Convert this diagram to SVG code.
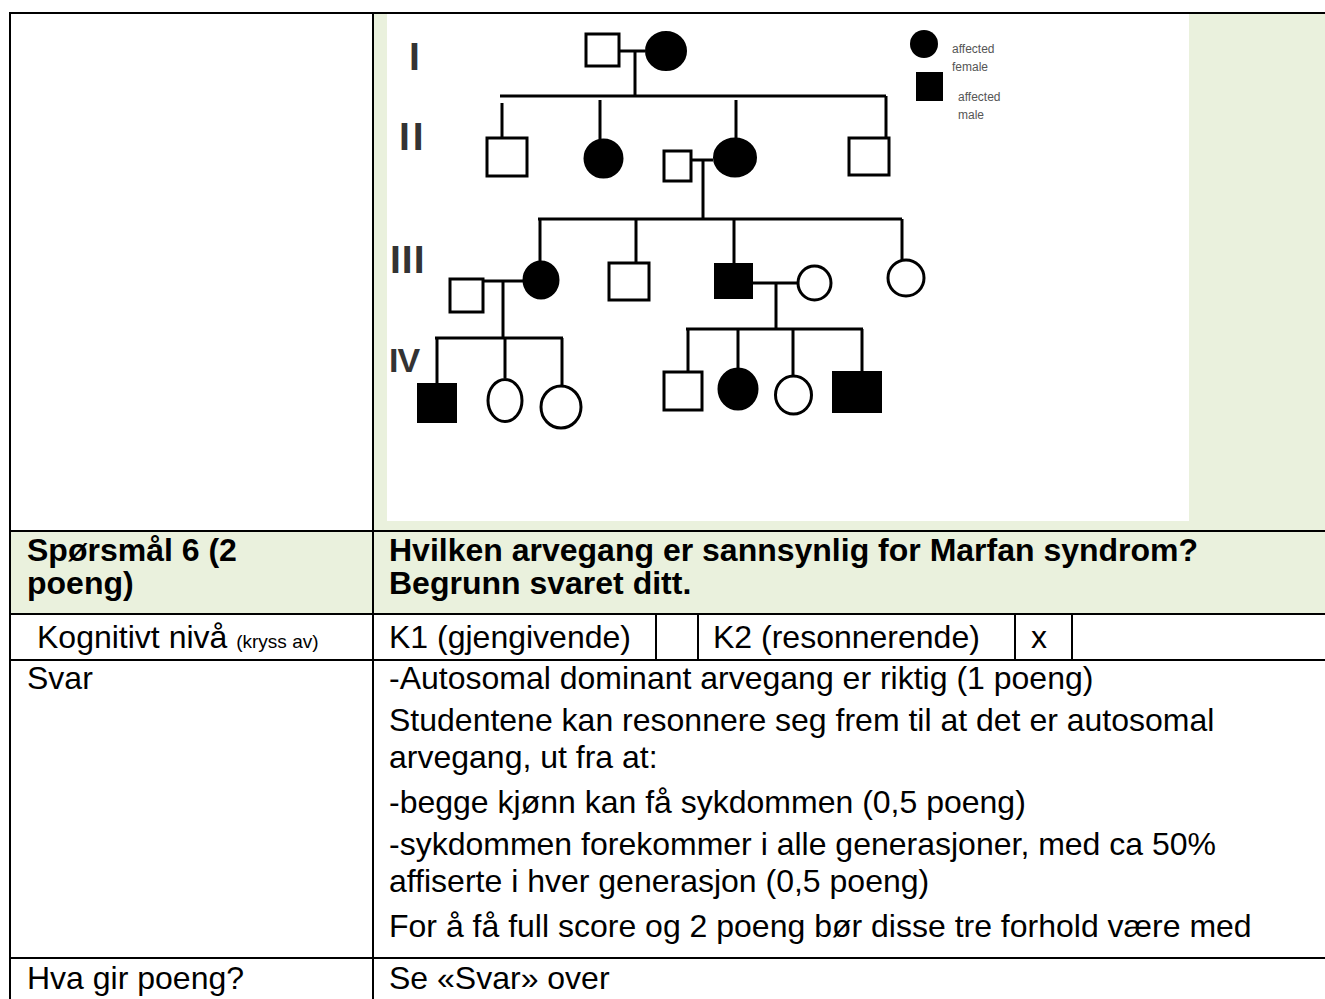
<svg xmlns="http://www.w3.org/2000/svg" width="1325" height="999" viewBox="0 0 1325 999">
<style>
.t{font-family:"Liberation Sans",Arial,sans-serif;font-size:32px;fill:#000}
.b{font-weight:bold}
.s{font-size:19px}
.grid{stroke:#000;stroke-width:2;fill:none}
.ped{stroke:#000;stroke-width:3;fill:none}
.open{fill:#fff;stroke:#000;stroke-width:3}
.fill{fill:#000;stroke:#000;stroke-width:2}
.gen{font-family:"Liberation Sans",Arial,sans-serif;font-weight:bold;fill:#333}
.leg{font-family:"Liberation Sans",Arial,sans-serif;font-size:12px;fill:#555}
</style>
<rect x="0" y="0" width="1325" height="999" fill="#fff"/>
<!-- backgrounds -->
<rect x="373" y="12" width="952" height="519" fill="#EAF1DD"/>
<rect x="387" y="14" width="802" height="507" fill="#fff"/>
<rect x="10" y="531" width="1315" height="83" fill="#EAF1DD"/>

<!-- table grid -->
<g id="grid" class="grid">
<line x1="9" y1="13" x2="1325" y2="13"/>
<line x1="10" y1="12" x2="10" y2="999"/>
<line x1="373" y1="12" x2="373" y2="999"/>
<line x1="10" y1="531" x2="1325" y2="531"/>
<line x1="10" y1="614" x2="1325" y2="614"/>
<line x1="10" y1="660" x2="1325" y2="660"/>
<line x1="10" y1="958" x2="1325" y2="958"/>
<line x1="656" y1="614" x2="656" y2="660"/>
<line x1="698" y1="614" x2="698" y2="660"/>
<line x1="1015" y1="614" x2="1015" y2="660"/>
<line x1="1072" y1="614" x2="1072" y2="660"/>
</g>

<!-- pedigree generation labels -->
<g id="gen-labels">
<text class="gen" x="409" y="70" font-size="39">I</text>
<text class="gen" x="399" y="150" font-size="39" letter-spacing="3">II</text>
<text class="gen" x="390" y="273" font-size="39" letter-spacing="1">III</text>
<text class="gen" x="389" y="372" font-size="34" letter-spacing="-1">IV</text>
</g>

<!-- connectors -->
<g id="connectors" class="ped">
<line x1="620" y1="51" x2="645" y2="51"/>
<line x1="635" y1="51" x2="635" y2="97"/>
<line x1="500" y1="96" x2="886" y2="96"/>
<line x1="502" y1="103" x2="502" y2="138"/>
<line x1="600" y1="100" x2="600" y2="139"/>
<line x1="736" y1="100" x2="736" y2="139"/>
<line x1="886" y1="96" x2="886" y2="137"/>
<line x1="692" y1="160" x2="713" y2="160"/>
<line x1="703" y1="160" x2="703" y2="219"/>
<line x1="538" y1="219" x2="902" y2="219"/>
<line x1="540" y1="219" x2="540" y2="262"/>
<line x1="636" y1="219" x2="636" y2="262"/>
<line x1="734" y1="219" x2="734" y2="263"/>
<line x1="902" y1="219" x2="902" y2="260"/>
<line x1="484" y1="281" x2="523" y2="281"/>
<line x1="503" y1="281" x2="503" y2="338"/>
<line x1="435" y1="338" x2="563" y2="338"/>
<line x1="437" y1="338" x2="437" y2="383"/>
<line x1="505" y1="338" x2="505" y2="378"/>
<line x1="562" y1="338" x2="562" y2="385"/>
<line x1="753" y1="283" x2="797" y2="283"/>
<line x1="776" y1="283" x2="776" y2="329"/>
<line x1="686" y1="329" x2="863" y2="329"/>
<line x1="688" y1="329" x2="688" y2="371"/>
<line x1="738" y1="329" x2="738" y2="368"/>
<line x1="793" y1="329" x2="793" y2="375"/>
<line x1="862" y1="329" x2="862" y2="371"/>
</g>

<!-- individuals -->
<g id="I-1"><rect class="open" x="586" y="34" width="33" height="32"/></g>
<g id="I-2"><ellipse class="fill" cx="666" cy="51" rx="20" ry="19"/></g>
<g id="II-1"><rect class="open" x="487" y="138" width="40" height="38"/></g>
<g id="II-2"><ellipse class="fill" cx="603.5" cy="158.5" rx="19" ry="19"/></g>
<g id="II-3"><rect class="open" x="664" y="151" width="27" height="30"/></g>
<g id="II-4"><ellipse class="fill" cx="735" cy="157.5" rx="21" ry="19"/></g>
<g id="II-5"><rect class="open" x="849" y="138" width="40" height="37"/></g>
<g id="III-1"><rect class="open" x="450" y="279" width="33" height="33"/></g>
<g id="III-2"><ellipse class="fill" cx="541" cy="280" rx="17.5" ry="18.5"/></g>
<g id="III-3"><rect class="open" x="609" y="263" width="40" height="37"/></g>
<g id="III-4"><rect class="fill" x="715" y="264" width="37" height="34"/></g>
<g id="III-5"><ellipse class="open" cx="814.5" cy="283" rx="16.5" ry="17"/></g>
<g id="III-6"><ellipse class="open" cx="906" cy="278" rx="18" ry="18"/></g>
<g id="IV-1"><rect class="fill" x="418" y="384" width="38" height="38"/></g>
<g id="IV-2"><ellipse class="open" cx="505" cy="400.5" rx="17" ry="21"/></g>
<g id="IV-3"><ellipse class="open" cx="561" cy="407" rx="20" ry="21"/></g>
<g id="IV-4"><rect class="open" x="664" y="372" width="38" height="38"/></g>
<g id="IV-5"><ellipse class="fill" cx="738" cy="389" rx="19.5" ry="20.5"/></g>
<g id="IV-6"><ellipse class="open" cx="793.5" cy="395" rx="18" ry="19"/></g>
<g id="IV-7"><rect class="fill" x="833" y="372" width="48" height="40"/></g>

<!-- legend -->
<g id="legend">
<circle cx="924" cy="44" r="14" fill="#000"/>
<text class="leg" x="952" y="53">affected</text>
<text class="leg" x="952" y="71">female</text>
<rect x="916" y="72" width="27" height="29" fill="#000"/>
<text class="leg" x="958" y="101">affected</text>
<text class="leg" x="958" y="119">male</text>
</g>

<!-- table text -->
<g id="q-label"><text class="t b" x="27" y="561">Spørsmål 6 (2</text><text class="t b" x="27" y="594">poeng)</text></g>
<g id="q-text"><text class="t b" x="389" y="561">Hvilken arvegang er sannsynlig for Marfan syndrom?</text><text class="t b" x="389" y="594">Begrunn svaret ditt.</text></g>
<g id="k-label"><text class="t" x="37" y="648">Kognitivt nivå <tspan class="s">(kryss av)</tspan></text></g>
<g id="k1"><text class="t" x="389" y="648">K1 (gjengivende)</text></g>
<g id="k2"><text class="t" x="713" y="648">K2 (resonnerende)</text></g>
<g id="k2x"><text class="t" x="1031" y="648">x</text></g>
<g id="svar-label"><text class="t" x="27" y="689">Svar</text></g>
<g id="svar-text">
<text class="t" x="389" y="689">-Autosomal dominant arvegang er riktig (1 poeng)</text>
<text class="t" x="389" y="731">Studentene kan resonnere seg frem til at det er autosomal</text>
<text class="t" x="389" y="768">arvegang, ut fra at:</text>
<text class="t" x="389" y="813">-begge kjønn kan få sykdommen (0,5 poeng)</text>
<text class="t" x="389" y="855">-sykdommen forekommer i alle generasjoner, med ca 50%</text>
<text class="t" x="389" y="892">affiserte i hver generasjon (0,5 poeng)</text>
<text class="t" x="389" y="937">For å få full score og 2 poeng bør disse tre forhold være med</text>
</g>
<g id="hva-label"><text class="t" x="27" y="989">Hva gir poeng?</text></g>
<g id="hva-text"><text class="t" x="389" y="989">Se «Svar» over</text></g>
</svg>
